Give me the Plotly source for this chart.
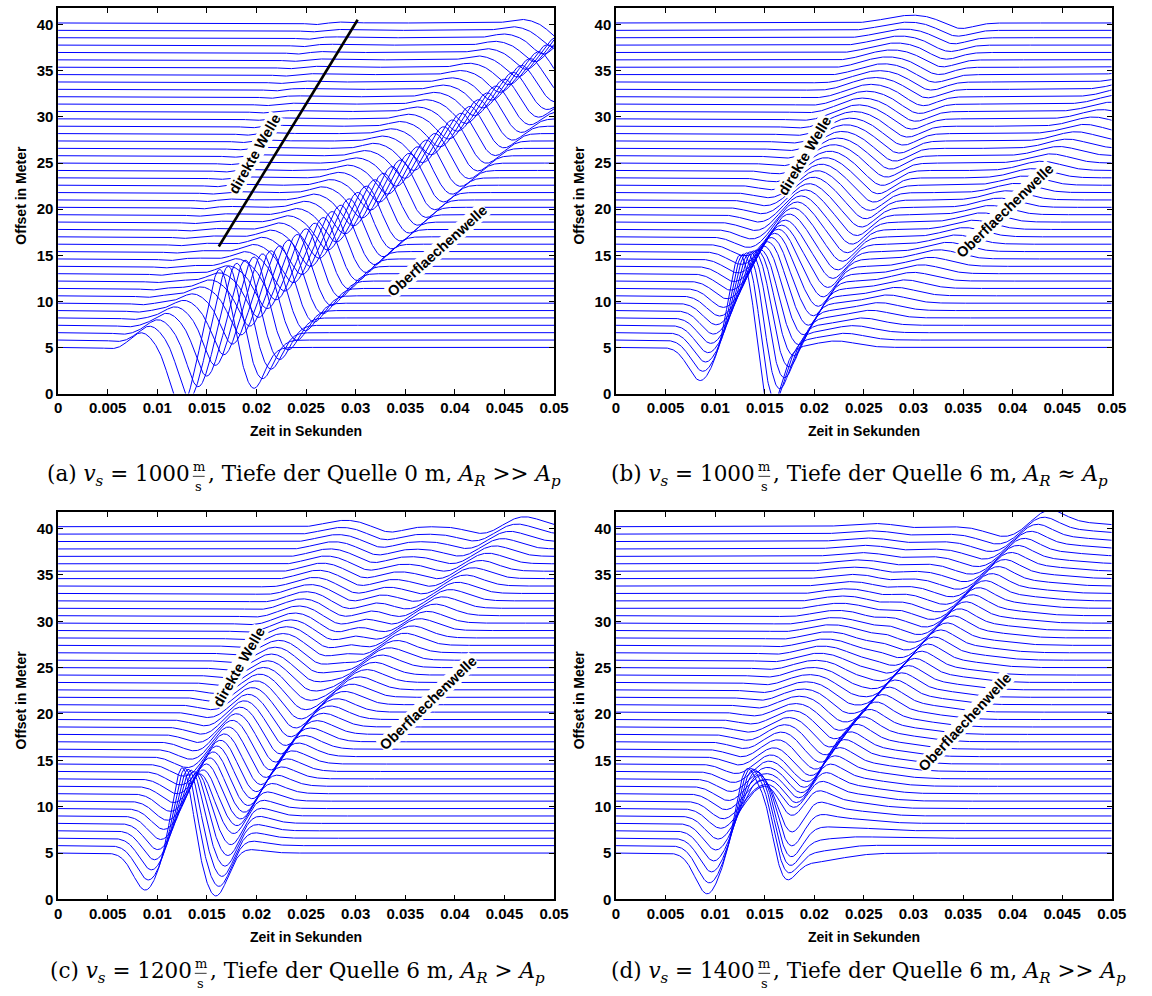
import numpy as np
import plotly.graph_objects as go

W, H = 1152, 996

# ---------------- data ----------------
OFFSETS = [5 + 0.8 * k for k in range(45)]          # receiver offsets / trace baselines (m)
NODES = [5, 10, 15, 20, 25, 30, 35, 40.2]             # offsets at which wave lobes were read

X_TICKS = [0, 0.005, 0.01, 0.015, 0.02, 0.025, 0.03, 0.035, 0.04, 0.045, 0.05]
X_TICKTEXT = ["0", "0.005", "0.01", "0.015", "0.02", "0.025", "0.03", "0.035", "0.04", "0.045", "0.05"]
Y_TICKS = [0, 5, 10, 15, 20, 25, 30, 35, 40]

# each lobe: t = centre time (s) at NODES, s = width (s), a = amplitude (offset units)
# panel (a)
A_P1 = dict(t=[0.0057, 0.0086, 0.0115, 0.0144, 0.0172, 0.0201, 0.0230, 0.0260], s=0.0009, a=-0.18)
A_P2 = dict(t=[0.0082, 0.0111, 0.0140, 0.0169, 0.0197, 0.0226, 0.0255, 0.0285], s=0.0012, a=0.10)
A_R1 = dict(t=[0.0084, 0.0138, 0.0193, 0.0247, 0.0301, 0.0356, 0.0410, 0.0467], s=0.0011,
            a=[1.5, 0.99, 0.78, 0.66, 0.57, 0.50, 0.44, 0.39])
A_R2 = dict(t=[0.0124, 0.0178, 0.0233, 0.0287, 0.0341, 0.0396, 0.0450, 0.0507], s=0.0011,
            a=[-6.6, -4.36, -3.43, -2.9, -2.51, -2.18, -1.91, -1.72])
A_R3 = dict(t=[0.0163, 0.0217, 0.0272, 0.0326, 0.0380, 0.0435, 0.0489, 0.0546], s=0.0011,
            a=[8.5, 5.61, 4.42, 3.74, 3.23, 2.81, 2.47, 2.21])
A_R4 = dict(t=[0.0197, 0.0251, 0.0306, 0.0360, 0.0414, 0.0469, 0.0523, 0.0580], s=0.0011,
            a=[-4.5, -2.97, -2.34, -1.98, -1.71, -1.49, -1.31, -1.17])

# panel (b)
B_P0 = dict(t=[0.0085, 0.0102, 0.0126, 0.0149, 0.0172, 0.0196, 0.0222, 0.0249],
            s=[0.0012, 0.0013, 0.0014, 0.0015, 0.0016, 0.0017, 0.0018, 0.0018],
            a=[-3.6, -2.3, -1.5, -0.8, -0.4, -0.25, -0.15, -0.05])
B_P1 = dict(t=[0.0124, 0.01445, 0.01685, 0.01937, 0.02195, 0.02456, 0.02718, 0.02992],
            s=[0.0010, 0.0012, 0.0015, 0.0018, 0.0021, 0.0023, 0.0025, 0.0026],
            a=[9.7, 5.5, 3.5, 2.6, 2.0, 1.5, 1.15, 0.85])
B_P1B = dict(t=[0.0138, 0.0158, 0.0180, 0.0205, 0.0230, 0.0256, 0.0282, 0.0310], s=0.0007,
             a=[3.0, 1.0, 0.0, 0.0, 0.0, 0.0, 0.0, 0.0])
B_P2 = dict(t=[0.0155, 0.0185, 0.0216, 0.0246, 0.0272, 0.0298, 0.0322, 0.0346],
            s=[0.0011, 0.0012, 0.0013, 0.0014, 0.0014, 0.0014, 0.0014, 0.0014],
            a=[-7.0, -4.4, -3.0, -2.2, -1.6, -1.2, -0.95, -0.75])
B_R1 = dict(t=[0.0222, 0.0276, 0.0330, 0.0384, 0.0438, 0.0492, 0.0546, 0.0600], s=0.002,
            a=[0.7, 0.9, 1.0, 1.0, 1.0, 1.0, 1.0, 1.0])

# panel (c)
C_P0 = dict(t=[0.0088, 0.0108, 0.0130, 0.0154, 0.0178, 0.0202, 0.0227, 0.0253],
            s=[0.0012, 0.0013, 0.0014, 0.0015, 0.0015, 0.0016, 0.0016, 0.0016],
            a=[-4.0, -2.2, -1.3, -0.7, -0.4, -0.25, -0.15, -0.1])
C_P1 = dict(t=[0.01254, 0.01447, 0.01672, 0.01908, 0.0215, 0.02394, 0.0264, 0.02897],
            s=[0.0010, 0.0012, 0.0014, 0.0016, 0.0018, 0.0019, 0.0020, 0.0021],
            a=[9.4, 4.5, 2.8, 2.0, 1.5, 1.1, 0.9, 0.7])
C_P2 = dict(t=[0.01594, 0.01807, 0.02052, 0.02308, 0.0256, 0.02814, 0.0307, 0.03337],
            s=[0.0012, 0.0012, 0.0013, 0.0013, 0.0014, 0.0014, 0.0014, 0.0014],
            a=[-4.7, -3.3, -2.3, -1.7, -1.3, -1.0, -0.8, -0.65])
C_R1 = dict(t=[0.0145, 0.0155, 0.0195, 0.0238, 0.0285, 0.0333, 0.0381, 0.0429], s=0.0016,
            a=[-0.2, -1.2, -1.3, -1.2, -1.1, -1.0, -0.9, -0.8])
C_R2 = dict(t=[0.0185, 0.0195, 0.0235, 0.0278, 0.0325, 0.0373, 0.0421, 0.0469], s=0.0018,
            a=[0.5, 1.5, 1.6, 1.5, 1.4, 1.3, 1.2, 1.1])

# panel (d)
D_P0 = dict(t=[0.0092, 0.0106, 0.0124, 0.0142, 0.0161, 0.0179, 0.0198, 0.0218],
            s=[0.0012, 0.0013, 0.0014, 0.0015, 0.0016, 0.0017, 0.0018, 0.0018],
            a=[-4.4, -2.0, -1.0, -0.5, -0.3, -0.2, -0.1, -0.05])
D_P1 = dict(t=[0.0131, 0.01464, 0.01638, 0.01819, 0.02005, 0.02193, 0.02382, 0.02579],
            s=[0.0010, 0.0013, 0.0016, 0.0019, 0.0022, 0.0024, 0.0026, 0.0027],
            a=[8.6, 3.5, 1.6, 1.0, 0.8, 0.6, 0.45, 0.35])
D_P1B = dict(t=[0.0150, 0.0160, 0.0178, 0.0196, 0.0215, 0.0234, 0.0253, 0.0273], s=0.0009,
             a=[5.0, 1.5, 0.0, 0.0, 0.0, 0.0, 0.0, 0.0])
D_P2 = dict(t=[0.0170, 0.01844, 0.02018, 0.02199, 0.02385, 0.02573, 0.02762, 0.02959], s=0.0011,
            a=[-2.4, -1.5, -0.8, -0.5, -0.4, -0.3, -0.25, -0.2])
D_R1 = dict(t=[0.0195, 0.0153, 0.0187, 0.0228, 0.0269, 0.0309, 0.0350, 0.0393],
            s=[0.0030, 0.0018, 0.0018, 0.0018, 0.0018, 0.0018, 0.0018, 0.0018],
            a=[-1.0, -2.2, -2.0, -1.7, -1.5, -1.3, -1.2, -1.1])
D_R2 = dict(t=[0.0196, 0.0196, 0.0230, 0.0271, 0.0312, 0.0352, 0.0393, 0.0436], s=0.0016,
            a=[0.0, 2.0, 2.3, 2.3, 2.2, 2.0, 1.8, 1.6])
D_R3 = dict(t=[0.0228, 0.0228, 0.0262, 0.0303, 0.0344, 0.0384, 0.0425, 0.0468], s=0.003,
            a=[0.0, 0.8, 0.8, 0.8, 0.7, 0.6, 0.5, 0.4])

PANEL_LOBES = {
    "a": [A_P1, A_P2, A_R1, A_R2, A_R3, A_R4],
    "b": [B_P0, B_P1, B_P1B, B_P2, B_R1],
    "c": [C_P0, C_P1, C_P2, C_R1, C_R2],
    "d": [D_P0, D_P1, D_P1B, D_P2, D_R1, D_R2, D_R3],
}

# black marker line for the direct wave in panel (a)
DIREKT_LINE_T = [0.0162, 0.0302]
DIREKT_LINE_Y = [15.95, 40.55]

# wave labels: (panel, text, t, offset, angle)
WAVE_LABELS = [
    ("a", "direkte Welle", 0.0198, 26.0, -60),
    ("a", "Oberflaechenwelle", 0.0382, 15.5, -42),
    ("b", "direkte Welle", 0.0190, 25.8, -59),
    ("b", "Oberflaechenwelle", 0.0392, 19.8, -44),
    ("c", "direkte Welle", 0.0182, 25.1, -60),
    ("c", "Oberflaechenwelle", 0.0373, 21.2, -44),
    ("d", "Oberflaechenwelle", 0.0352, 19.1, -47),
]

CAPTION_LEFT = {"a": "(a) <i>v<sub>s</sub></i> = 1000", "b": "(b) <i>v<sub>s</sub></i> = 1000",
                "c": "(c) <i>v<sub>s</sub></i> = 1200", "d": "(d) <i>v<sub>s</sub></i> = 1400"}
CAPTION_RIGHT = {
    "a": ", Tiefe der Quelle 0 m, <i>A<sub>R</sub></i> &gt;&gt; <i>A<sub>p</sub></i>",
    "b": ", Tiefe der Quelle 6 m, <i>A<sub>R</sub></i> \u2248 <i>A<sub>p</sub></i>",
    "c": ", Tiefe der Quelle 6 m, <i>A<sub>R</sub></i> &gt; <i>A<sub>p</sub></i>",
    "d": ", Tiefe der Quelle 6 m, <i>A<sub>R</sub></i> &gt;&gt; <i>A<sub>p</sub></i>",
}

# ---------------- layout geometry (pixels) ----------------
PANEL_PX = {  # left, right, top, bottom
    "a": (55.0, 559.3, 8.3, 396.7),
    "b": (622.3, 1126.3, 8.3, 396.7),
    "c": (55.0, 559.3, 516.0, 906.7),
    "d": (622.3, 1126.3, 516.0, 906.7),
}
CAPTION_Y = {"a": 479, "b": 479, "c": 980, "d": 980}
CAPTION_FRAC_X = {"a": 198, "b": 773, "c": 200, "d": 773}
Y_MAX = 41.8
T_MAX = 0.05

T = np.linspace(0.0, T_MAX, 1001)


def lobe_value(t, x, lobe):
    tc = np.interp(x, NODES, lobe["t"])
    s = lobe["s"] if np.isscalar(lobe["s"]) else np.interp(x, NODES, lobe["s"])
    a = lobe["a"] if np.isscalar(lobe["a"]) else np.interp(x, NODES, lobe["a"])
    return a * np.exp(-0.5 * ((t - tc) / s) ** 2)


fig = go.Figure()
axis_ids = {"a": ("x", "y"), "b": ("x2", "y2"), "c": ("x3", "y3"), "d": ("x4", "y4")}

for key, lobes in PANEL_LOBES.items():
    xs, ys = [], []
    for off in OFFSETS:
        y = np.full_like(T, off)
        for lb in lobes:
            y = y + lobe_value(T, off, lb)
        xs.extend(T.tolist() + [None])
        ys.extend(y.tolist() + [None])
    xa, ya = axis_ids[key]
    fig.add_trace(go.Scatter(x=xs, y=ys, mode="lines", xaxis=xa, yaxis=ya,
                             line=dict(color="#0000ff", width=1), hoverinfo="skip",
                             showlegend=False))

fig.add_trace(go.Scatter(x=DIREKT_LINE_T, y=DIREKT_LINE_Y, mode="lines", xaxis="x", yaxis="y",
                         line=dict(color="black", width=2.6), hoverinfo="skip", showlegend=False))

layout = dict(width=W, height=H, margin=dict(l=0, r=0, t=0, b=0),
              paper_bgcolor="white", plot_bgcolor="white", showlegend=False)

SANS = "Liberation Sans, Arial, sans-serif"
SERIF = "DejaVu Serif, serif"
tickfont = dict(family=SANS, size=15, color="black", weight="bold")
annotations = []
shapes = []


def px_to_dom(key, px, py):
    l, r, t, b = PANEL_PX[key]
    return (px - l) / (r - l), (b - py) / (b - t)


def note(key, text, px, py, font, xanchor="center", yanchor="middle", angle=0):
    xa, ya = axis_ids[key]
    ax, ay = px_to_dom(key, px, py)
    annotations.append(dict(text=text, x=ax, y=ay, xref=xa + " domain", yref=ya + " domain",
                            showarrow=False, xanchor=xanchor, yanchor=yanchor, textangle=angle,
                            borderpad=0, font=font))


for i, key in enumerate(["a", "b", "c", "d"]):
    l, r, t, b = PANEL_PX[key]
    sfx = "" if i == 0 else str(i + 1)
    layout["xaxis" + sfx] = dict(domain=[l / W, r / W], range=[0, T_MAX], anchor="y" + sfx,
                                 tickvals=X_TICKS, ticktext=X_TICKTEXT, ticks="inside", ticklen=5,
                                 tickwidth=1, tickcolor="black", showline=True, linecolor="black",
                                 linewidth=1.5, mirror="ticks", showgrid=False, zeroline=False,
                                 tickfont=tickfont, fixedrange=True)
    layout["yaxis" + sfx] = dict(domain=[1 - b / H, 1 - t / H], range=[0, Y_MAX], anchor="x" + sfx,
                                 tickvals=Y_TICKS, ticks="inside", ticklen=5, tickwidth=1,
                                 tickcolor="black", showline=True, linecolor="black", linewidth=1.5,
                                 mirror="ticks", showgrid=False, zeroline=False, tickfont=tickfont,
                                 fixedrange=True)
    title_font = dict(family=SANS, size=14, color="black")
    note(key, "<b>Zeit in Sekunden</b>", (l + r) / 2, b + 38, title_font)
    note(key, "<b>Offset in Meter</b>", l - 38, (t + b) / 2 - 6, title_font, angle=-90)
    # captions
    cy = CAPTION_Y[key]
    fx = CAPTION_FRAC_X[key]
    cap_font = dict(family=SERIF, size=21.5, color="black")
    frac_font = dict(family=SERIF, size=13, color="black")
    note(key, CAPTION_LEFT[key], fx - 8, cy, cap_font, xanchor="right")
    note(key, "m", fx, cy, frac_font, yanchor="bottom")
    note(key, "s", fx, cy + 2.5, frac_font, yanchor="top")
    note(key, CAPTION_RIGHT[key], fx + 8, cy, cap_font, xanchor="left")
    xa, ya = axis_ids[key]
    x0, y0 = px_to_dom(key, fx - 6, cy + 1.2)
    x1, _ = px_to_dom(key, fx + 6, cy + 1.2)
    shapes.append(dict(type="line", xref=xa + " domain", yref=ya + " domain", x0=x0, x1=x1,
                       y0=y0, y1=y0, line=dict(color="black", width=0.8)))

for key, text, tt, yy, ang in WAVE_LABELS:
    xa, ya = axis_ids[key]
    annotations.append(dict(text="<b>" + text + "</b>", x=tt, y=yy, xref=xa, yref=ya, showarrow=False,
                            textangle=ang, bgcolor="white", borderpad=0,
                            font=dict(family=SANS, size=14.5, color="black")))

layout["annotations"] = annotations
layout["shapes"] = shapes
fig.update_layout(**layout)
fig.write_html("out.html")
